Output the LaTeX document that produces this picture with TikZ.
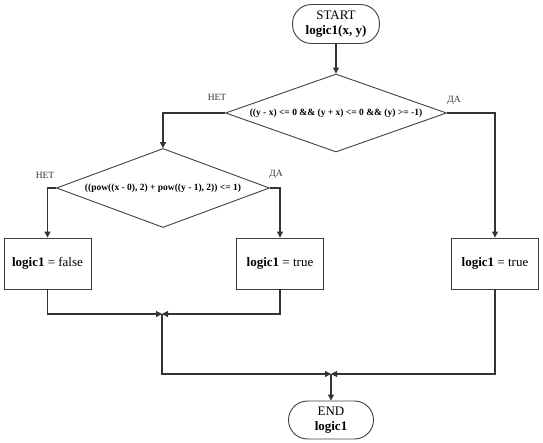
\documentclass[tikz,border=0pt]{standalone}
\usepackage{fontspec}
\setmainfont{Liberation Serif}
\usetikzlibrary{shapes.geometric,arrows.meta}
\begin{document}
\begin{tikzpicture}[x=1pt,y=-1pt,
  line/.style={draw=black!80, line width=1.1pt},
  arr/.style={line, -{Triangle[length=6pt,width=6pt]}},
  term/.style={draw=black!75, line width=0.9pt, rounded corners=19pt, minimum width=87pt, minimum height=39pt, align=center, inner sep=0pt, font=\fontsize{13}{15}\selectfont},
  dec/.style={diamond, draw=black!75, line width=0.9pt, aspect=2.8, inner sep=0pt, font=\bfseries\fontsize{9.5}{11}\selectfont},
  proc/.style={rectangle, draw=black!75, line width=0.9pt, minimum width=87pt, minimum height=51pt, inner sep=0pt, font=\fontsize{13}{15}\selectfont},
  lbl/.style={font=\fontsize{9.5}{11}\selectfont, text=black!80}
]
\useasboundingbox (0,0) rectangle (543,443);

\node[term] (start) at (336,24) {START\\\textbf{logic1(x, y)}};
\node[dec, minimum width=221pt, minimum height=78pt] (d1) at (336,113) {((y - x) <= 0 \&\& (y + x) <= 0 \&\& (y) >= -1)};
\node[dec, minimum width=213pt, minimum height=79pt] (d2) at (163,188) {((pow((x - 0), 2) + pow((y - 1), 2)) <= 1)};
\node[proc] (b1) at (47.5,263.5) {\textbf{logic1} = false};
\node[proc] (b2) at (280,263.5) {\textbf{logic1} = true};
\node[proc] (b3) at (495,263.5) {\textbf{logic1} = true};
\node[term, minimum width=85pt, minimum height=38pt] (end) at (331,420) {END\\\textbf{logic1}};

\coordinate (j1) at (162,314);
\coordinate (j2) at (331,374);

\node[lbl] (n1) at (217,97) {НЕТ};
\node[lbl] (y1) at (454,100) {ДА};
\node[lbl] (n2) at (45,175) {НЕТ};
\node[lbl] (y2) at (276,174) {ДА};

\draw[arr] (start) -- (d1);
\draw[arr] (d1.west) -| (d2.north);
\draw[arr] (d1.east) -| (b3.north);
\draw[arr] (d2.west) -| (b1.north);
\draw[arr] (d2.east) -| (b2.north);
\draw[arr] (b1.south) |- (j1);
\draw[arr] (b2.south) |- (j1);
\draw[arr] (j1) |- (j2);
\draw[arr] (b3.south) |- (j2);
\draw[arr] (j2) -- (end);
\end{tikzpicture}
\end{document}
